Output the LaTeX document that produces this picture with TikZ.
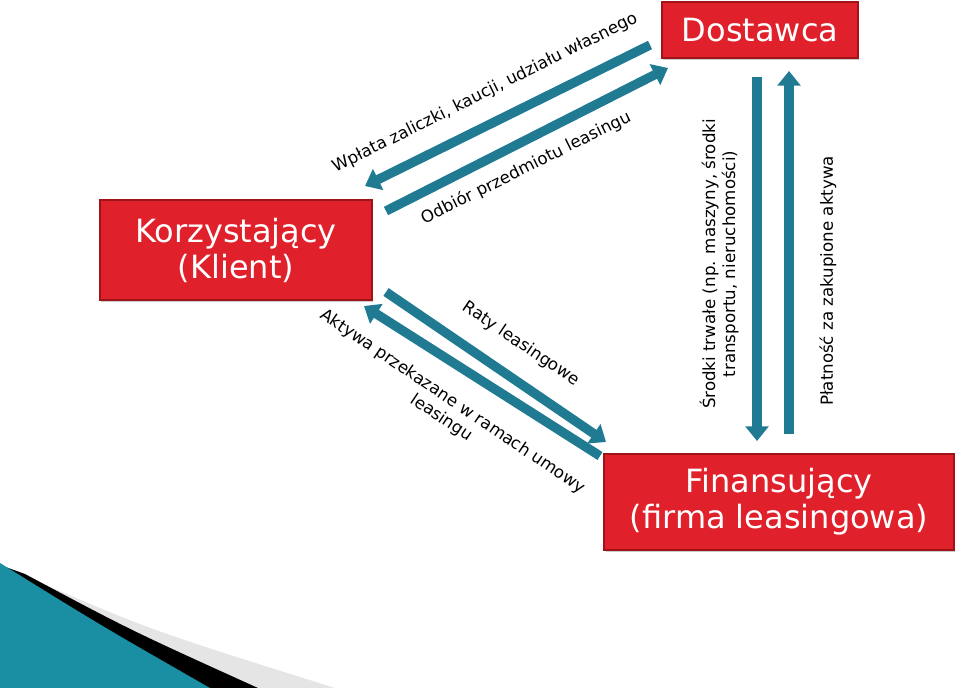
\documentclass[tikz,border=0pt]{standalone}
\usepackage{fontspec}
\setmainfont{DejaVu Sans}
\usetikzlibrary{arrows.meta,shadows}
\definecolor{boxred}{HTML}{E0202A}
\definecolor{boxedge}{HTML}{9E1418}
\definecolor{teal}{HTML}{1F7A92}
\begin{document}
\begin{tikzpicture}[x=0.75pt,y=-0.75pt,
  box/.style={draw=boxedge,line width=1.5pt,fill=boxred,text=white,align=center,font=\fontsize{24}{27}\selectfont,inner sep=0pt,drop shadow={shadow xshift=1pt,shadow yshift=-1.5pt,opacity=0.4}},
  flow/.style={draw=teal,line width=7pt,-{Triangle[length=11pt,width=17pt]}},
  lab/.style={font=\fontsize{12.5}{15}\selectfont,align=center}]
\useasboundingbox (0,0) rectangle (960,688);
% decoration
\fill[gray!20] (30,578) .. controls (150,630) .. (335,688) -- (0,688) -- (0,565) -- cycle;
\fill[black] (25,574) .. controls (130,630) .. (258,688) -- (0,688) -- (0,565) -- cycle;
\fill[teal!85!cyan] (0,563) .. controls (100,625) .. (210,688) -- (0,688) -- cycle;
% boxes
\node[box,minimum width=147pt,minimum height=42pt] (dost) at (760,30) {Dostawca};
\node[box,minimum width=204pt,minimum height=75pt] (korz) at (236,250) {Korzystający\\(Klient)};
\node[box,minimum width=262pt,minimum height=72pt] (fin) at (779,502) {Finansujący\\(firma leasingowa)};
% anchor coordinates
\coordinate (a1s) at (650,45); \coordinate (a1e) at (365,186);
\coordinate (a2s) at (386,211); \coordinate (a2e) at (668,68);
\coordinate (a3s) at (386,292); \coordinate (a3e) at (606,442);
\coordinate (a4s) at (600,456); \coordinate (a4e) at (364,306);
\coordinate (a5s) at (757,77); \coordinate (a5e) at (757,441);
\coordinate (a6s) at (789,434); \coordinate (a6e) at (789,71);
\draw[flow] (a1s) -- (a1e);
\draw[flow] (a2s) -- (a2e);
\draw[flow] (a3s) -- (a3e);
\draw[flow] (a4s) -- (a4e);
\draw[flow] (a5s) -- (a5e);
\draw[flow] (a6s) -- (a6e);
% labels
\node[lab,rotate=26.5] (l1) at (485,93) {Wpłata zaliczki, kaucji, udziału własnego};
\node[lab,rotate=26.5] (l2) at (526,168) {Odbiór przedmiotu leasingu};
\node[lab,rotate=-34] (l3) at (521,344) {Raty leasingowe};
\node[lab,rotate=-34] (l4) at (447,410) {Aktywa przekazane w ramach umowy\\leasingu};
\node[lab,rotate=90] (l5) at (719,264) {Środki trwałe (np. maszyny, środki\\transportu, nieruchomości)};
\node[lab,rotate=90] (l6) at (828,281) {Płatność za zakupione aktywa};
\end{tikzpicture}
\end{document}
